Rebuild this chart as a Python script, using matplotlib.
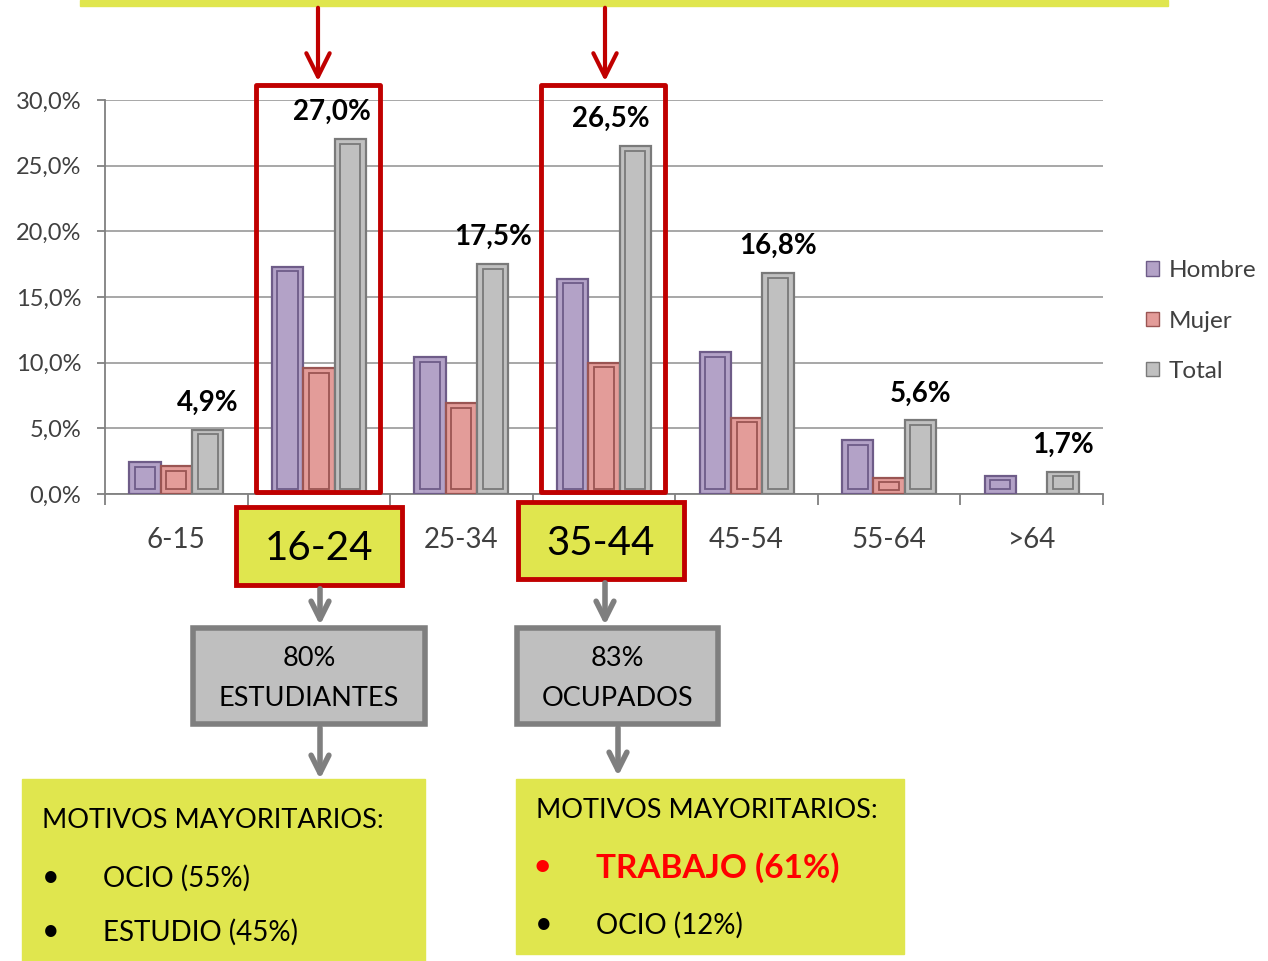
import numpy as np
import matplotlib
matplotlib.use("Agg")
import matplotlib.pyplot as plt
from matplotlib.patches import Rectangle, Patch

plt.rcParams['font.family'] = ['Lato', 'DejaVu Sans']

# datos (porcentaje por grupo de edad)
grupos = ['6-15', '16-24', '25-34', '35-44', '45-54', '55-64', '>64']
hombre = [2.4, 17.3, 10.4, 16.4, 10.8, 4.1, 1.4]
mujer = [2.1, 9.6, 6.9, 10.0, 5.8, 1.2, 0.0]
total = [4.9, 27.0, 17.5, 26.5, 16.8, 5.6, 1.7]
series = ['Hombre', 'Mujer', 'Total']
destacados = [1, 3]  # 16-24 y 35-44
yticks = [0, 5, 10, 15, 20, 25, 30]

caras = ['#B3A2C7', '#E39C99', '#C0C0C0']
bordes = ['#6E5C88', '#9A5553', '#7A7A7A']
YEL = '#E0E64E'
RED = '#C00000'
GREY = '#7F7F7F'

fig = plt.figure(figsize=(12.68, 9.61), dpi=100)
ax = fig.add_axes([105/1268, 1 - 494/961, 998/1268, 394/961])

x = np.arange(len(grupos))
w = 0.22
for k, vals in enumerate([hombre, mujer, total]):
    vals = np.array(vals)
    xs = x + (k - 1) * w
    m = vals > 0
    ax.bar(xs[m], vals[m], width=w, color=caras[k], edgecolor=bordes[k], lw=1.6, zorder=3)
    # bisel interior
    ins = np.minimum(0.35, vals[m] / 4)
    ax.bar(xs[m], vals[m] - 2 * ins, bottom=ins, width=w * 0.64, color=caras[k],
           edgecolor=bordes[k], lw=1.3, zorder=4)

# etiquetas del total
dx = [0, -13, 0, -18, 0, 0, 0]
for i, v in enumerate(total):
    ax.annotate(f"{v:.1f}%".replace('.', ','), (x[i] + w, v), xytext=(dx[i], 19.5),
                textcoords='offset points', ha='center', va='center',
                fontsize=20, fontweight='bold', color='black', zorder=6)

ax.set_xlim(-0.5, len(grupos) - 0.5)
ax.set_ylim(0, 30)
ax.set_yticks(yticks)
ax.set_yticklabels([f"{t:.1f}%".replace('.', ',') for t in yticks])
ax.yaxis.grid(True, color='#A0A0A0', lw=1.3, zorder=0)
ax.set_axisbelow(True)

ax.set_xticks(np.arange(-0.5, len(grupos), 1.0))
ax.set_xticklabels([])
ax.set_xticks(x, minor=True)
ax.set_xticklabels([g if i not in destacados else '' for i, g in enumerate(grupos)], minor=True)
ax.tick_params(axis='x', which='major', length=8, width=1.3, color='#808080')
ax.tick_params(axis='x', which='minor', length=0, pad=24, labelsize=20, labelcolor='#404040')
ax.tick_params(axis='y', length=6, width=1.3, color='#808080', pad=11,
               labelsize=17, labelcolor='#404040')
for s in ['top', 'right']:
    ax.spines[s].set_visible(False)
for s in ['left', 'bottom']:
    ax.spines[s].set_color('#808080')
    ax.spines[s].set_linewidth(1.3)

# recuadros rojos sobre los grupos destacados
for i in destacados:
    ax.add_patch(Rectangle((i - 0.44, 0.15), 0.87, 31.0, fill=False, ec=RED, lw=3.5,
                           joinstyle='round', clip_on=False, zorder=7))

handles = [Patch(facecolor=caras[k], edgecolor=bordes[k], label=series[k]) for k in range(3)]
ax.legend(handles=handles, loc='center left', bbox_to_anchor=(1124/1268, 1 - 321/961),
          bbox_transform=fig.transFigure, frameon=False, fontsize=17.5, handlelength=0.55,
          handleheight=0.55, handletextpad=0.4, labelspacing=1.2, labelcolor='#404040')

# capa de anotaciones en pixeles
ov = fig.add_axes([0, 0, 1, 1], zorder=5)
ov.set_xlim(0, 1268)
ov.set_ylim(961, 0)
ov.axis('off')
ov.patch.set_visible(False)

ov.add_patch(Rectangle((80, 0), 1088, 6, color=YEL))
for xa in [318, 605]:
    ov.annotate('', xy=(xa, 84), xytext=(xa, 5),
                arrowprops=dict(arrowstyle='->', color=RED, lw=3, mutation_scale=42))

# cajas amarillas con la edad
for (bx, by, bw, bh), txt in [((236, 507, 166, 78), '16-24'), ((518, 502, 166, 77), '35-44')]:
    ov.add_patch(Rectangle((bx, by), bw, bh, fc=YEL, ec=RED, lw=3.5))
    ov.text(bx + bw / 2, by + bh / 2 + 3, txt, ha='center', va='center', fontsize=29)

# flechas grises y cajas grises
for xa, y0, y1 in [(320, 586, 628), (605, 580, 628), (320, 725, 782), (618, 725, 779)]:
    ov.annotate('', xy=(xa, y1), xytext=(xa, y0),
                arrowprops=dict(arrowstyle='->', color=GREY, lw=4, mutation_scale=32))

for (bx, by, bw, bh), l1, l2 in [((193, 628, 232, 96), '80%', 'ESTUDIANTES'),
                                 ((517, 628, 201, 96), '83%', 'OCUPADOS')]:
    ov.add_patch(Rectangle((bx, by), bw, bh, fc='#BFBFBF', ec=GREY, lw=4))
    ov.text(bx + bw / 2, 659, l1, ha='center', va='center', fontsize=19.5)
    ov.text(bx + bw / 2, 698, l2, ha='center', va='center', fontsize=19.5)

# motivos
ov.add_patch(Rectangle((22, 779), 403, 182, color=YEL))
ov.add_patch(Rectangle((516, 779), 388, 175, color=YEL))

ov.text(42, 821, 'MOTIVOS MAYORITARIOS:', ha='left', va='center', fontsize=19.5)
ov.text(42, 877, '•', ha='left', va='center', fontsize=22)
ov.text(103, 878, 'OCIO (55%)', ha='left', va='center', fontsize=20)
ov.text(42, 931, '•', ha='left', va='center', fontsize=22)
ov.text(103, 932, 'ESTUDIO (45%)', ha='left', va='center', fontsize=20)

ov.text(536, 810, 'MOTIVOS MAYORITARIOS:', ha='left', va='center', fontsize=19.5)
ov.text(533, 867, '•', ha='left', va='center', fontsize=24, color='#FF0000')
ov.text(596, 868, 'TRABAJO (61%)', ha='left', va='center', fontsize=24,
        fontweight='bold', color='#FF0000')
ov.text(535, 924, '•', ha='left', va='center', fontsize=22)
ov.text(596, 925, 'OCIO (12%)', ha='left', va='center', fontsize=20)

fig.savefig('out.png', dpi=100)
